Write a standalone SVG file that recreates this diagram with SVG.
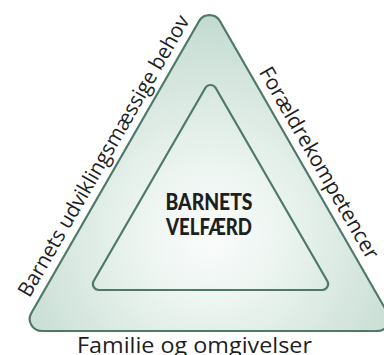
<svg xmlns="http://www.w3.org/2000/svg" width="384" height="355" viewBox="0 0 384 355">
  <defs>
    <radialGradient id="fill" gradientUnits="userSpaceOnUse" cx="210" cy="235" r="225">
      <stop offset="0" stop-color="#fafcfb"/>
      <stop offset="0.3" stop-color="#edf5f1"/>
      <stop offset="1" stop-color="#c2dacf"/>
    </radialGradient>
  </defs>
  <style>
    .tri { fill: url(#fill); stroke: #4e796a; stroke-width: 2.2; stroke-linejoin: round; }
    .side { font-family: "Open Sans", "Noto Sans", "Liberation Sans", sans-serif; font-size: 21px; fill: #1e1e1e; }
    .core { font-family: Lato, "Liberation Sans", sans-serif; font-weight: 900; font-size: 22px; fill: #1e1e1e; text-anchor: middle; }
  </style>
  <rect width="384" height="355" fill="#ffffff"/>
  <g id="outer-triangle">
    <path class="tri" d="M 219.86 21.03 L 387.64 312.97 A 12 12 0 0 1 377.2 331 L 41.8 331 A 12 12 0 0 1 31.36 312.97 L 199.14 21.03 A 12 12 0 0 1 219.86 21.03 Z"/>
  </g>
  <g id="inner-triangle">
    <path class="tri" stroke-width="2" d="M 215.7 88 L 327.3 281 A 6 6 0 0 1 322.11 290 L 98.89 290 A 6 6 0 0 1 93.7 281 L 205.3 88 A 6 6 0 0 1 215.7 88 Z"/>
  </g>
  <g id="center-label">
    <text class="core" x="209" y="210" textLength="87" lengthAdjust="spacingAndGlyphs">BARNETS</text>
    <text class="core" x="209" y="235" textLength="86" lengthAdjust="spacingAndGlyphs">VELFÆRD</text>
  </g>
  <g id="label-left">
    <text class="side" transform="translate(29.5 298.5) rotate(-60)" textLength="321" lengthAdjust="spacingAndGlyphs">Barnets udviklingsmæssige behov</text>
  </g>
  <g id="label-right">
    <text class="side" transform="translate(258.5 72) rotate(60)" textLength="218" lengthAdjust="spacingAndGlyphs">Forældrekompetencer</text>
  </g>
  <g id="label-bottom">
    <text class="side" x="77" y="353" textLength="235" lengthAdjust="spacingAndGlyphs">Familie og omgivelser</text>
  </g>
  <g id="connectors"/>
</svg>
